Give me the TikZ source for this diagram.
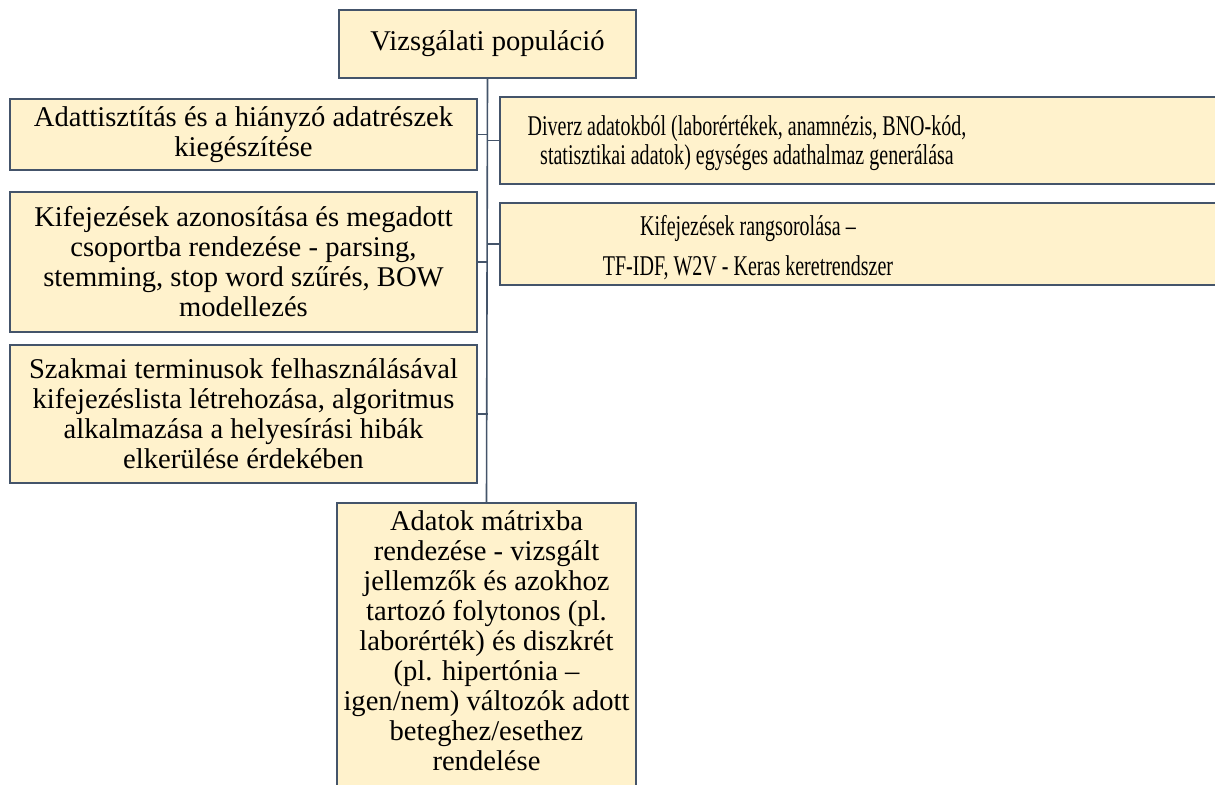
\documentclass[tikz,border=0pt]{standalone}
\usepackage{fontspec}
\setmainfont{Liberation Serif}
\newfontfamily\narrowserif[FakeStretch=0.7]{Liberation Serif}
\definecolor{boxfill}{HTML}{FFF2CC}
\definecolor{boxline}{HTML}{44546A}
\usetikzlibrary{positioning}

\begin{document}
\begin{tikzpicture}[x=0.5pt, y=-0.5pt,
  box/.style={draw=boxline, fill=boxfill, line width=0.8pt, inner sep=0pt,
    align=center, font=\fontsize{14.3}{15}\selectfont},
  narrowtext/.style={align=center, inner sep=0pt, font=\narrowserif\fontsize{14.3}{14.5}\selectfont},
  link/.style={draw=boxline, line width=0.8pt}]
  \clip (0,0) rectangle (1215,784);
  % Top box
  \node[box, minimum width=148.5pt, minimum height=34pt] (pop) at (487.5,44) {Vizsgálati populáció};
  % Left column
  \node[box, minimum width=233.5pt, minimum height=35.5pt] (clean) at (243.5,134.5)
    {Adattisztítás és a hiányzó adatrészek\\ kiegészítése};
  \node[box, minimum width=233.5pt, minimum height=70pt] (parse) at (243.5,262)
    {Kifejezések azonosítása és megadott\\ csoportba rendezése - parsing,\\ stemming, stop word szűrés, BOW\\ modellezés};
  \node[box, minimum width=233.5pt, minimum height=69pt] (terms) at (243.5,414)
    {Szakmai terminusok felhasználásával\\ kifejezéslista létrehozása, algoritmus\\ alkalmazása a helyesírási hibák\\ elkerülése érdekében};
  % Right column
  \node[box, anchor=west, minimum width=380pt, minimum height=43.5pt] (merge) at (499,140.5) {};
  \node[narrowtext] (mergetext) at (747,143)
    {Diverz adatokból (laborértékek, anamnézis, BNO-kód,\\ statisztikai adatok) egységes adathalmaz generálása};
  \node[box, anchor=west, minimum width=380pt, minimum height=41pt] (rank) at (499,244) {};
  \node[narrowtext] (ranktext) at (748,248)
    {Kifejezések rangsorolása –\\[5.5pt] TF-IDF, W2V - Keras keretrendszer};
  % Bottom box, runs off the page
  \node[box, anchor=north, minimum width=149.5pt, inner ysep=4pt, text depth=14pt] (matrix) at (486.5,502)
    {Adatok mátrixba\\ rendezése - vizsgált\\ jellemzők és azokhoz\\ tartozó folytonos (pl.\\ laborérték) és diszkrét\\ (pl. hipertónia –\\ igen/nem) változók adott\\ beteghez/esethez\\ rendelése};
  % Connectors
  \draw[link] (pop.south) -- (matrix.north);
  \draw[link] (clean.east) -- (clean.east -| pop.south);
  \draw[link] (parse.east) -- (parse.east -| pop.south);
  \draw[link] (terms.east) -- (terms.east -| pop.south);
  \draw[link] (merge.west) -- (merge.west -| pop.south);
  \draw[link] (rank.west) -- (rank.west -| pop.south);
\end{tikzpicture}
\end{document}
